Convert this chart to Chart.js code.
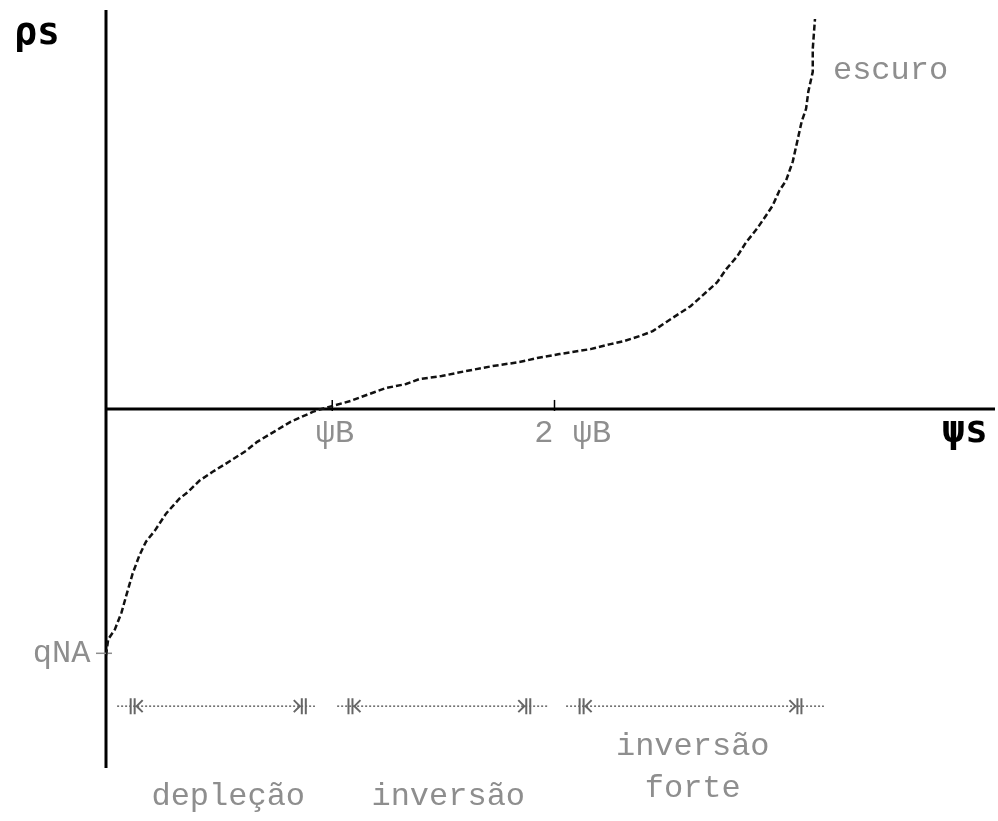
<!DOCTYPE html>
<html>
<head>
<meta charset="utf-8">
<script src="https://cdn.jsdelivr.net/npm/chart.js@4/dist/chart.umd.min.js"></script>
<style>
  html, body { margin: 0; padding: 0; background: #fff; }
  #wrap { width: 998px; height: 821px; }
</style>
</head>
<body>
<div id="wrap"><canvas id="chart"></canvas></div>
<script>
// surface potential, in units of psiB
const psiS = [
  0.00, 0.01, 0.04, 0.07, 0.09, 0.12, 0.15, 0.18, 0.22, 0.27,
  0.33, 0.37, 0.42, 0.48, 0.56, 0.63, 0.68, 0.74, 0.83, 0.87,
  0.93, 0.97, 1.02, 1.10, 1.16, 1.21, 1.26, 1.35, 1.41, 1.51,
  1.62, 1.74, 1.86, 1.94, 2.04, 2.18, 2.27, 2.33, 2.40, 2.46,
  2.52, 2.63, 2.70, 2.75, 2.79, 2.84, 2.88, 2.93, 2.97, 3.00,
  3.03, 3.06, 3.09, 3.11, 3.13, 3.15, 3.16, 3.18, 3.18, 3.19
];
// surface charge density (arbitrary units)
const rhoS = [
  -2.47, -2.31, -2.21, -2.04, -1.88, -1.65, -1.47, -1.33, -1.22, -1.05,
  -0.90, -0.83, -0.72, -0.63, -0.52, -0.42, -0.33, -0.25, -0.13, -0.09,
  -0.03, 0.00, 0.03, 0.08, 0.13, 0.17, 0.21, 0.25, 0.30, 0.33,
  0.38, 0.43, 0.47, 0.51, 0.55, 0.60, 0.65, 0.68, 0.73, 0.78,
  0.87, 1.03, 1.17, 1.27, 1.40, 1.53, 1.67, 1.81, 1.94, 2.04,
  2.19, 2.29, 2.48, 2.68, 2.88, 3.01, 3.18, 3.38, 3.61, 3.91
];
const qNA = -2.45;

// marked points on the psiS axis
const axisMarks = [1, 2];

// regions along the bottom: [start, end] and inner bar positions
const regionSpans = [[0.05, 0.94], [1.04, 1.99], [2.07, 3.23]];
const regionBars = [[0.12, 0.89], [1.10, 1.90], [2.14, 3.12]];
const regionLevel = -2.98;

const THIN = '32px "Liberation Mono", "DejaVu Sans Mono", monospace';
const BOLD = 'bold 38px "DejaVu Sans Mono", monospace';
const GREY = '#8e8e8e';

// text labels: [text, x, y, font, colour]
const labels = [
  ['ρs', -0.31, 3.76, BOLD, '#000'],
  ['ψs', 3.865, -0.23, BOLD, '#000'],
  ['ψB', 1.03, -0.25, THIN, GREY],
  ['2 ψB', 2.10, -0.25, THIN, GREY],
  ['escuro', 3.53, 3.39, THIN, GREY],
  ['qNA', -0.2, qNA, THIN, GREY],
  ['depleção', 0.55, -3.89, THIN, GREY],
  ['inversão', 1.54, -3.89, THIN, GREY],
  ['inversão', 2.64, -3.38, THIN, GREY],
  ['forte', 2.64, -3.81, THIN, GREY]
];

const sketch = {
  id: 'sketch',
  beforeDatasetsDraw(chart) {
    const { ctx, chartArea: a, scales: { x, y } } = chart;
    const x0 = x.getPixelForValue(0);
    const y0 = y.getPixelForValue(0);
    ctx.save();
    ctx.strokeStyle = '#000';
    ctx.lineWidth = 3;
    ctx.beginPath();
    ctx.moveTo(x0, a.top);
    ctx.lineTo(x0, a.bottom);
    ctx.moveTo(x0, y0);
    ctx.lineTo(a.right, y0);
    ctx.stroke();

    // small marks at psiB and 2 psiB
    ctx.lineWidth = 1.5;
    axisMarks.forEach(v => {
      const px = x.getPixelForValue(v) + 4;
      ctx.beginPath();
      ctx.moveTo(px, y0 - 9);
      ctx.lineTo(px, y0 + 2);
      ctx.stroke();
    });

    // tick for qNA on the vertical axis
    const yq = y.getPixelForValue(qNA);
    ctx.strokeStyle = GREY;
    ctx.beginPath();
    ctx.moveTo(x0 - 10, yq);
    ctx.lineTo(x0 + 6, yq);
    ctx.stroke();

    // region arrows
    const yr = y.getPixelForValue(regionLevel);
    ctx.strokeStyle = '#666';
    regionSpans.forEach((span, i) => {
      const xs = x.getPixelForValue(span[0]);
      const xe = x.getPixelForValue(span[1]);
      const [b1, b2] = regionBars[i].map(v => x.getPixelForValue(v));
      ctx.lineWidth = 1.5;
      ctx.setLineDash([2, 2]);
      ctx.beginPath();
      ctx.moveTo(xs, yr);
      ctx.lineTo(xe, yr);
      ctx.stroke();
      ctx.setLineDash([]);
      ctx.lineWidth = 2;
      [[b1, 1], [b2, -1]].forEach(([bx, dir]) => {
        ctx.beginPath();
        ctx.moveTo(bx - 2 * dir, yr - 8);
        ctx.lineTo(bx - 2 * dir, yr + 8);
        ctx.moveTo(bx + 2 * dir, yr - 8);
        ctx.lineTo(bx + 2 * dir, yr + 8);
        ctx.moveTo(bx + 10 * dir, yr - 6);
        ctx.lineTo(bx + 4 * dir, yr);
        ctx.lineTo(bx + 10 * dir, yr + 6);
        ctx.stroke();
      });
    });
    ctx.restore();
  },
  afterDatasetsDraw(chart) {
    const { ctx, scales: { x, y } } = chart;
    ctx.save();
    ctx.textAlign = 'center';
    ctx.textBaseline = 'middle';
    labels.forEach(([text, vx, vy, font, colour]) => {
      ctx.font = font;
      ctx.fillStyle = colour;
      ctx.fillText(text, x.getPixelForValue(vx), y.getPixelForValue(vy));
    });
    ctx.restore();
  }
};

new Chart(document.getElementById('chart'), {
  type: 'line',
  data: {
    datasets: [{
      data: psiS.map((v, i) => ({ x: v, y: rhoS[i] })),
      borderColor: '#111',
      borderWidth: 2.5,
      borderDash: [6, 3],
      pointRadius: 0,
      tension: 0,
      fill: false
    }]
  },
  options: {
    responsive: true,
    maintainAspectRatio: false,
    animation: false,
    layout: {
      padding: { left: 106, right: 3, top: 10, bottom: 53 }
    },
    plugins: {
      legend: { display: false },
      tooltip: { enabled: false }
    },
    scales: {
      x: { type: 'linear', display: false, min: 0, max: 4 },
      y: { type: 'linear', display: false, min: -3.6, max: 4 }
    }
  },
  plugins: [sketch]
});
</script>
</body>
</html>
